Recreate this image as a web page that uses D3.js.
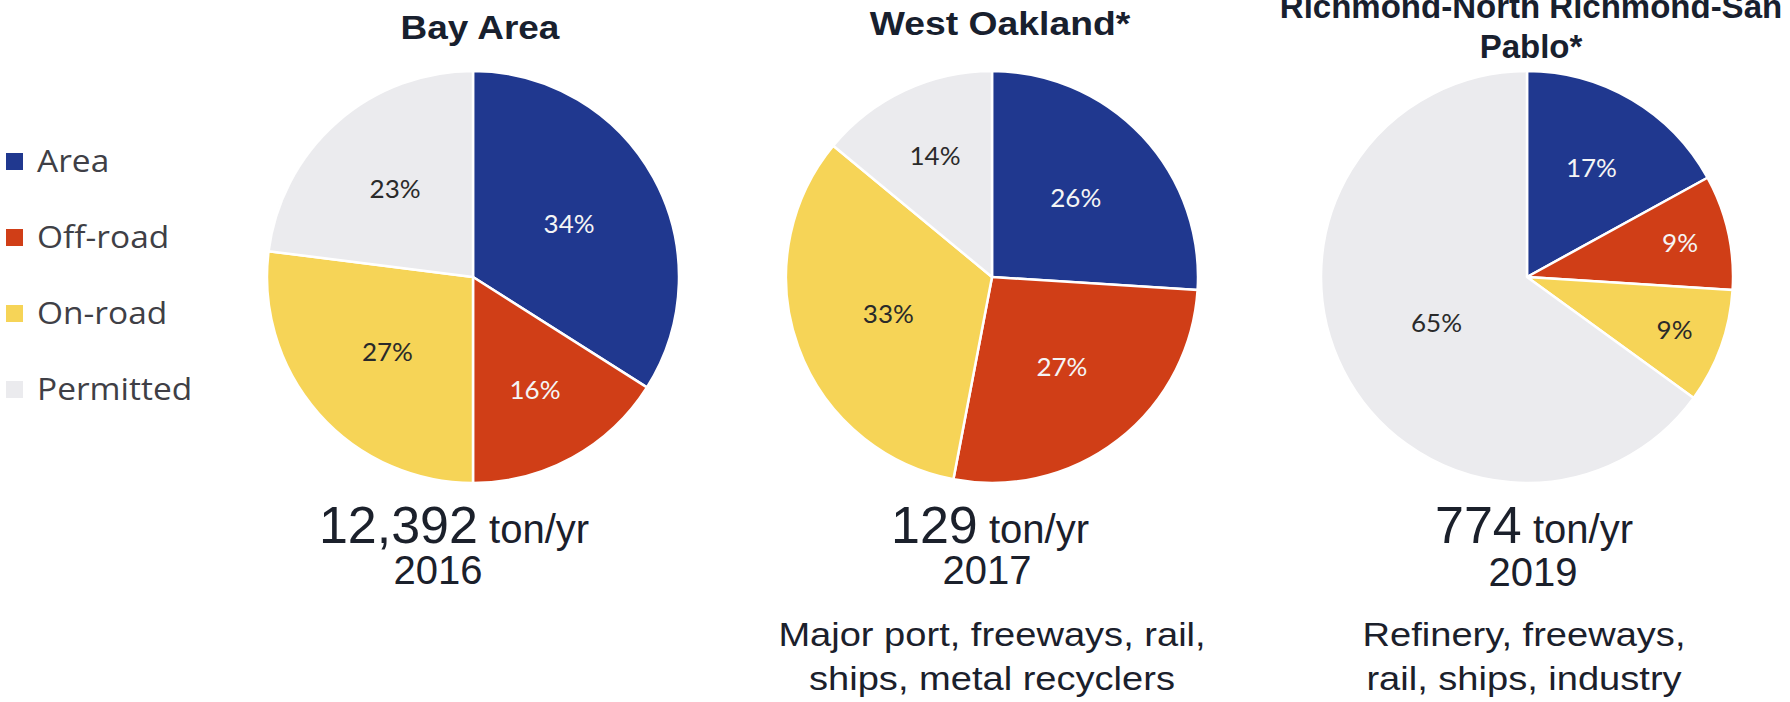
<!DOCTYPE html>
<html>
<head>
<meta charset="utf-8">
<script src="https://cdn.jsdelivr.net/npm/d3@7"></script>
<style>
  html, body { margin: 0; padding: 0; background: #ffffff; }
  svg { display: block; }
</style>
</head>
<body>
<svg id="chart" width="1790" height="702"></svg>
<script>
// ---------- data ----------
const categories = ["Area", "Off-road", "On-road", "Permitted"];
const regionTitles = [["Bay Area"], ["West Oakland*"], ["Richmond-North Richmond-San", "Pablo*"]];
const bayAreaShares = [34, 16, 27, 23];
const westOaklandShares = [26, 27, 33, 14];
const richmondShares = [17, 9, 9, 65];
const totals = ["12,392", "129", "774"];
const totalUnit = "ton/yr";
const years = ["2016", "2017", "2019"];
const descriptions = [[], ["Major port, freeways, rail,", "ships, metal recyclers"], ["Refinery, freeways,", "rail, ships, industry"]];

// ---------- style / layout ----------
const colors = ["#20388f", "#d03e17", "#f6d457", "#ebebee"];
const labelColors = ["#f5f5f5", "#f5f5f5", "#2a2a2a", "#2a2a2a"];
const W = 1790, H = 702;
const R = 206;
const cy = 277;
const pieCx = [473, 992, 1527];
const titleCx = [480, 1000, 1531];
const titleBase = [[39], [35], [18, 58]];
const titleStretch = [1.12, 1.13, 1.0];
const totalCx = [454, 990, 1534];
const yearCx = [438, 987, 1533];
const descCx = [992, 992, 1524];
const descStretch = 1.12;

const svg = d3.select("#chart");
svg.append("rect").attr("width", W).attr("height", H).attr("fill", "#ffffff");

const color = d3.scaleOrdinal().domain(categories).range(colors);
const labelColor = d3.scaleOrdinal().domain(categories).range(labelColors);

const pie = d3.pie().sort(null).value(d => d.value).startAngle(0).endAngle(2 * Math.PI);
const arc = d3.arc().innerRadius(0).outerRadius(R);

const seriesList = [bayAreaShares, westOaklandShares, richmondShares];

function stretchedText(parent, x, y, str, size, weight, fill, family, sx) {
  const g = parent.append("g").attr("transform", `translate(${x},${y}) scale(${sx},1)`);
  g.append("text")
    .attr("text-anchor", "middle")
    .attr("font-family", family)
    .attr("font-size", size)
    .attr("font-weight", weight)
    .attr("fill", fill)
    .text(str);
}

seriesList.forEach((shares, i) => {
  const data = categories.map((c, k) => ({ cat: c, value: shares[k] }));
  const total = d3.sum(shares);
  const g = svg.append("g").attr("transform", `translate(${pieCx[i]},${cy})`);

  const arcs = pie(data);
  g.selectAll("path.slice")
    .data(arcs)
    .join("path")
    .attr("class", "slice")
    .attr("d", arc)
    .attr("fill", d => color(d.data.cat))
    .attr("stroke", "#ffffff")
    .attr("stroke-width", 2.5)
    .attr("stroke-linejoin", "round");

  g.selectAll("text.pct")
    .data(arcs)
    .join("text")
    .attr("class", "pct")
    .attr("transform", d => {
      const p = d.data.value / total;
      const lr = R * (0.45 + 0.028 / p);
      const a = (d.startAngle + d.endAngle) / 2;
      return `translate(${lr * Math.sin(a)},${-lr * Math.cos(a)}) scale(1.04,1)`;
    })
    .attr("text-anchor", "middle")
    .attr("dy", "0.36em")
    .attr("font-family", "Lato, 'Open Sans', sans-serif")
    .attr("font-size", 25)
    .attr("fill", d => labelColor(d.data.cat))
    .text(d => d3.format(".0%")(d.data.value / total));

  // title
  regionTitles[i].forEach((line, j) => {
    stretchedText(svg, titleCx[i], titleBase[i][j], line, 33, "bold", "#18202e",
      "'Liberation Sans', Arial, sans-serif", titleStretch[i]);
  });

  // total line
  const t = svg.append("text")
    .attr("x", totalCx[i]).attr("y", 543)
    .attr("text-anchor", "middle")
    .attr("font-family", "'Liberation Sans', Arial, sans-serif")
    .attr("fill", "#1b202b");
  t.append("tspan").attr("font-size", 52).text(totals[i]);
  t.append("tspan").attr("font-size", 40).text(" " + totalUnit);

  svg.append("text")
    .attr("x", yearCx[i]).attr("y", i === 2 ? 586 : 584)
    .attr("text-anchor", "middle")
    .attr("font-family", "'Liberation Sans', Arial, sans-serif")
    .attr("font-size", 40)
    .attr("fill", "#1b202b")
    .text(years[i]);

  descriptions[i].forEach((line, j) => {
    stretchedText(svg, descCx[i], 646 + j * 44, line, 34, "normal", "#1b202b",
      "'Liberation Sans', Arial, sans-serif", descStretch);
  });
});

// legend
const legend = svg.append("g").attr("transform", "translate(6,153)");
const items = legend.selectAll("g.item")
  .data(categories)
  .join("g")
  .attr("class", "item")
  .attr("transform", (d, k) => `translate(0,${k * 76})`);
items.append("rect")
  .attr("width", 17).attr("height", 17)
  .attr("fill", d => color(d));
items.append("text")
  .attr("transform", "translate(31,19) scale(1.08,1)")
  .attr("font-family", "'Open Sans', sans-serif")
  .attr("font-size", 31)
  .attr("fill", "#3f3f46")
  .text(d => d);
</script>
</body>
</html>
